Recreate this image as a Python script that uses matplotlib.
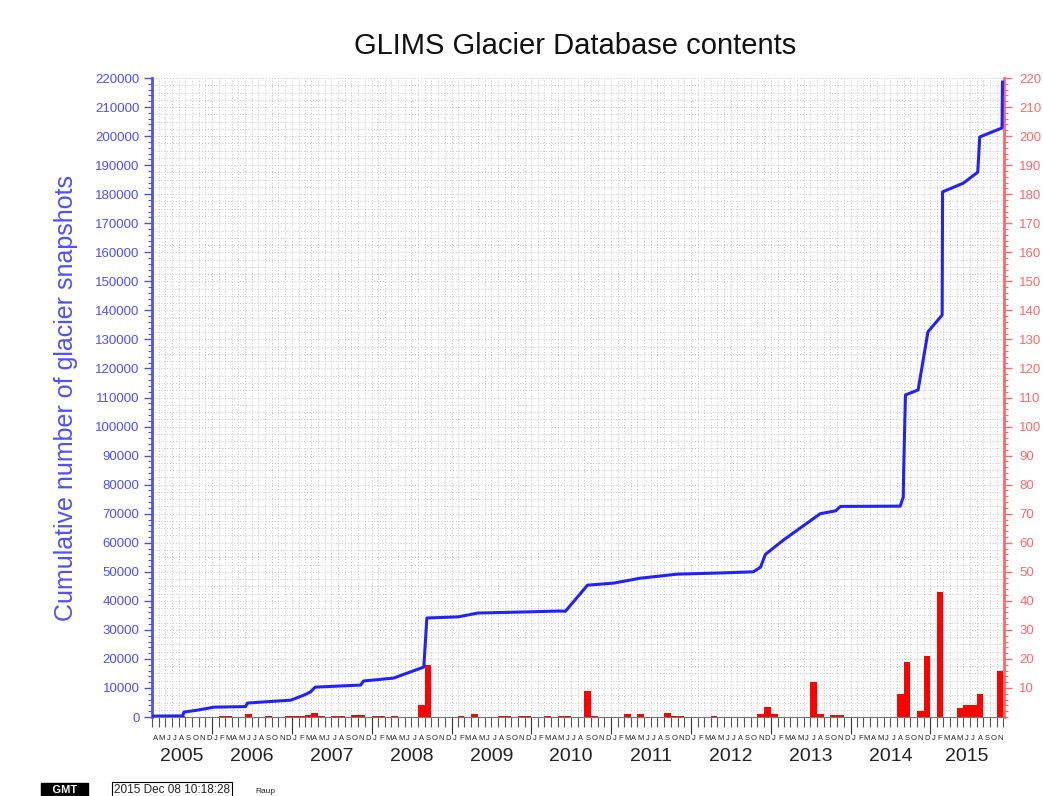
import numpy as np
import pandas as pd
import matplotlib
matplotlib.use("Agg")
import matplotlib.pyplot as plt
import matplotlib.dates as mdates
from matplotlib.ticker import MultipleLocator

plt.rcParams['font.family'] = ['Liberation Sans', 'DejaVu Sans']

# cumulative number of glacier snapshots (blue curve, left axis)
line_dates = ['2005-04-01', '2005-08-20', '2005-08-25', '2005-10-28', '2006-01-10',
              '2006-06-03', '2006-06-12', '2006-08-25', '2006-12-27', '2007-02-24',
              '2007-03-27', '2007-04-18', '2007-11-12', '2007-11-25', '2008-04-10',
              '2008-08-27', '2008-09-10', '2008-12-28', '2009-02-01', '2009-05-01',
              '2009-12-15', '2010-05-12', '2010-06-06', '2010-09-15', '2011-01-12',
              '2011-05-15', '2011-11-01', '2012-05-15', '2012-10-13', '2012-11-15',
              '2012-12-07', '2013-03-01', '2013-08-15', '2013-10-25', '2013-11-15',
              '2014-08-16', '2014-08-30', '2014-09-01', '2014-09-09', '2014-11-06',
              '2014-12-21', '2015-02-24', '2015-02-26', '2015-06-01', '2015-08-06',
              '2015-08-15', '2015-11-25', '2015-11-27']
line_values = [300, 400, 1700, 2400, 3400,
               3600, 4800, 5200, 5800, 7500,
               8600, 10300, 11000, 12400, 13400,
               17200, 34100, 34400, 34500, 35800,
               36200, 36500, 36400, 45400, 46100,
               47800, 49200, 49600, 50000, 51600,
               56000, 61000, 70000, 71000, 72500,
               72600, 75700, 85000, 110900, 112600,
               132600, 138400, 180800, 183800, 187600,
               199700, 202800, 218600]

# monthly additions (red bars, right axis)
bar_months = ['2005-07', '2005-08', '2006-02', '2006-03', '2006-06', '2006-09',
              '2006-12', '2007-01', '2007-02', '2007-03', '2007-04', '2007-05',
              '2007-07', '2007-08', '2007-10', '2007-11', '2008-01', '2008-02',
              '2008-04', '2008-08', '2008-09', '2009-02', '2009-04', '2009-08',
              '2009-09', '2009-11', '2009-12', '2010-03', '2010-05', '2010-06',
              '2010-09', '2010-10', '2011-03', '2011-05', '2011-09', '2011-10',
              '2011-11', '2012-04', '2012-11', '2012-12', '2013-01', '2013-07',
              '2013-08', '2013-10', '2013-11', '2014-08', '2014-09', '2014-11',
              '2014-12', '2015-02', '2015-05', '2015-06', '2015-07', '2015-08',
              '2015-11']
bar_values = [0.5, 0.5, 0.5, 0.5, 1.0, 0.5,
              0.5, 0.5, 0.5, 0.6, 1.4, 0.5,
              0.5, 0.5, 0.7, 0.7, 0.5, 0.5,
              0.5, 4, 18, 0.5, 1.2, 0.5,
              0.5, 0.5, 0.5, 0.5, 0.5, 0.5,
              9, 0.5, 1.2, 1.2, 1.5, 0.5,
              0.5, 0.5, 1, 3.4, 1, 12,
              1, 0.8, 0.8, 8, 19, 2,
              21, 43, 3, 4, 4, 8,
              16]

month_letters = list('JFMAMJJASOND')
x_start = pd.Timestamp('2005-04-01')
x_end = pd.Timestamp('2015-12-04')

blue = '#2222ff'
blue_txt = '#4f4fff'
red_axis = '#ff6b6b'

fig = plt.figure(figsize=(10.43, 7.96), dpi=100)
ax2 = fig.add_axes([0.1457, 0.0992, 0.8169, 0.8028])
ax = ax2.twinx()  # left axis drawn on top so the curve is above the bars
ax.yaxis.tick_left()
ax.yaxis.set_label_position('left')
ax2.yaxis.tick_right()

# dotted background grid
months = pd.date_range('2005-05-01', '2015-12-01', freq='MS')
ax2.vlines(months, 0, 220, colors='#c4c4c4', linestyles=(0, (1, 2)), lw=0.7, zorder=0)
ax2.hlines(np.arange(2.5, 220.1, 2.5), x_start, x_end, colors='#c4c4c4',
           linestyles=(0, (1, 2)), lw=0.7, zorder=0)

# red bars
starts = pd.to_datetime(bar_months)
widths = [(s + pd.offsets.MonthBegin(1) - s).days for s in starts]
ax2.bar(starts, bar_values, width=widths, align='edge', color='#ff0000', zorder=2)

# blue cumulative line
ax.plot(pd.to_datetime(line_dates), line_values, color=blue, lw=2.2, zorder=3)

ax.set_xlim(x_start, x_end)
ax.set_ylim(0, 220000)
ax2.set_ylim(0, 220)

ax.set_yticks(np.arange(0, 220001, 10000))
ax.yaxis.set_minor_locator(MultipleLocator(2000))
ax.tick_params(axis='y', which='major', colors=blue_txt, length=6, width=1, labelsize=9.5, pad=3)
ax.tick_params(axis='y', which='minor', colors=blue_txt, length=3, width=0.8)

ax2.set_yticks(np.arange(10, 221, 10))
ax2.yaxis.set_minor_locator(MultipleLocator(2))
ax2.tick_params(axis='y', which='major', colors=red_axis, length=6, width=1, labelsize=9.5, pad=5)
ax2.tick_params(axis='y', which='minor', colors=red_axis, length=3, width=0.8)

ax2.xaxis.set_major_locator(mdates.YearLocator())
ax2.xaxis.set_minor_locator(mdates.MonthLocator())
ax2.tick_params(axis='x', which='major', length=12, width=0.8, color='#333333', labelbottom=False)
ax2.tick_params(axis='x', which='minor', length=7, width=0.8, color='#555555')
ax.xaxis.set_visible(False)

for a in (ax, ax2):
    a.spines['top'].set_visible(False)
ax.spines['left'].set_color(blue_txt)
ax.spines['left'].set_linewidth(2)
ax.spines['right'].set_visible(False)
ax.spines['bottom'].set_visible(False)
ax2.spines['left'].set_visible(False)
ax2.spines['right'].set_color(red_axis)
ax2.spines['right'].set_linewidth(2)
ax2.spines['bottom'].set_color('#777777')
ax2.spines['bottom'].set_linewidth(0.8)

# month letters and year labels under the axis
tr = ax2.get_xaxis_transform()
for m in pd.date_range('2005-04-01', '2015-12-01', freq='MS'):
    mid = m + (m + pd.offsets.MonthBegin(1) - m) / 2
    if mid < x_end:
        ax2.text(mid, -0.033, month_letters[m.month - 1], transform=tr,
                 ha='center', va='center', fontsize=5.5, color='#222222')
for yr in range(2005, 2016):
    lo = max(pd.Timestamp(f'{yr}-01-01'), x_start)
    hi = min(pd.Timestamp(f'{yr + 1}-01-01'), x_end)
    ax2.text(lo + (hi - lo) / 2, -0.0625, str(yr), transform=tr,
             ha='center', va='center', fontsize=14, color='#222222')

fig.text(0.551, 0.942, 'GLIMS Glacier Database contents', ha='center', va='center',
         fontsize=21, color='#111111')
fig.text(0.063, 0.5, 'Cumulative number of glacier snapshots', rotation=90,
         ha='center', va='center', fontsize=18, color=blue_txt)

# GMT time stamp
fig.text(0.041, 0.004, '   GMT   ', fontsize=8, color='white', fontweight='bold',
         bbox=dict(facecolor='black', edgecolor='black', pad=1.5))
fig.text(0.109, 0.004, '2015 Dec 08 10:18:28', fontsize=8.5, color='#222222',
         bbox=dict(facecolor='white', edgecolor='black', lw=0.8, pad=1.5))
fig.text(0.245, 0.004, 'Raup', fontsize=6, color='#222222')

fig.savefig('out.png', dpi=100, facecolor='white')
